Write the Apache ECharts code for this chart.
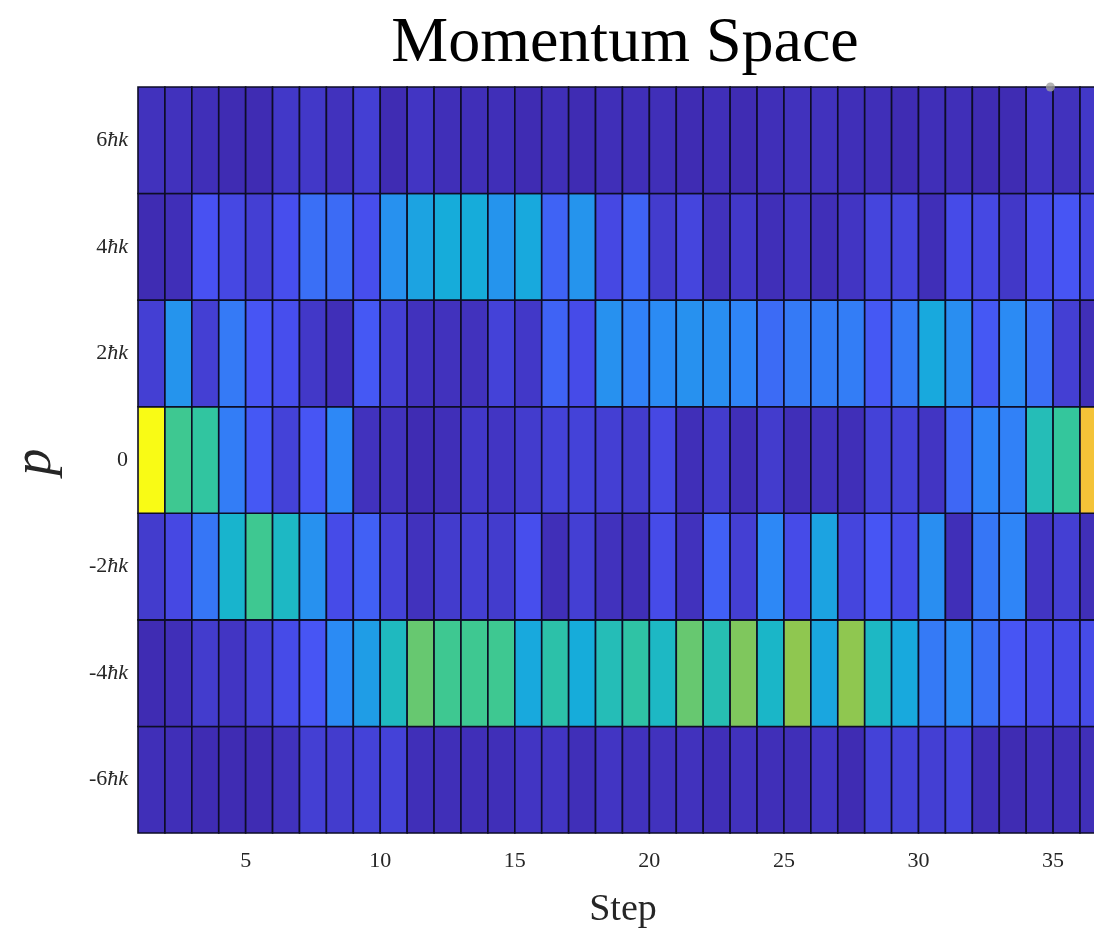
<!DOCTYPE html>
<html><head><meta charset="utf-8">
<script src="https://cdn.jsdelivr.net/npm/echarts@6/dist/echarts.min.js"></script>
<style>html,body{margin:0;padding:0;background:#fff}#c{width:1094px;height:931px}</style>
</head><body><div id="c"></div><script>
// Steps (columns) and momentum states (rows, in units of ħk)
const steps = [1,2,3,4,5,6,7,8,9,10,11,12,13,14,15,16,17,18,19,20,21,22,23,24,25,26,27,28,29,30,31,32,33,34,35,36];
const momenta = [-6,-4,-2,0,2,4,6];
// Relative occupation per step for each momentum row (colour scale 0..1)
const rowP6 = [0.04,0.04,0.03,0.02,0.02,0.06,0.06,0.04,0.08,0.02,0.05,0.03, 0.03,0.03,0.02,0.03,0.02,0.03,0.03,0.03,0.02,0.03,0.02,0.03, 0.04,0.04,0.03,0.03,0.02,0.03,0.03,0.02,0.02,0.05,0.04,0.06];
const rowP4 = [0.02,0.03,0.14,0.11,0.08,0.13,0.22,0.21,0.13,0.32,0.38,0.41, 0.41,0.33,0.40,0.19,0.33,0.11,0.19,0.07,0.10,0.04,0.06,0.03, 0.05,0.03,0.05,0.10,0.10,0.03,0.12,0.11,0.06,0.12,0.15,0.11];
const rowP2 = [0.08,0.33,0.08,0.25,0.15,0.13,0.06,0.03,0.16,0.08,0.04,0.04, 0.04,0.09,0.06,0.19,0.12,0.32,0.27,0.30,0.32,0.31,0.28,0.21, 0.25,0.26,0.26,0.16,0.25,0.40,0.31,0.16,0.30,0.22,0.08,0.03];
const row0  = [1.00,0.58,0.55,0.26,0.16,0.09,0.15,0.29,0.04,0.04,0.02,0.03, 0.06,0.05,0.07,0.09,0.09,0.08,0.07,0.11,0.03,0.07,0.03,0.07, 0.03,0.04,0.03,0.09,0.09,0.05,0.20,0.28,0.27,0.50,0.56,0.84];
const rowM2 = [0.07,0.11,0.24,0.45,0.58,0.47,0.32,0.12,0.18,0.09,0.04,0.07, 0.08,0.07,0.13,0.03,0.08,0.04,0.03,0.12,0.04,0.18,0.08,0.29, 0.12,0.38,0.10,0.15,0.12,0.31,0.03,0.24,0.28,0.05,0.08,0.03];
const rowM4 = [0.02,0.03,0.07,0.05,0.08,0.12,0.15,0.30,0.36,0.48,0.63,0.58, 0.58,0.58,0.40,0.53,0.41,0.50,0.54,0.47,0.63,0.51,0.66,0.46, 0.68,0.39,0.68,0.47,0.40,0.25,0.30,0.22,0.15,0.12,0.12,0.12];
const rowM6 = [0.03,0.03,0.02,0.02,0.02,0.04,0.08,0.07,0.09,0.09,0.03,0.03, 0.03,0.03,0.05,0.05,0.03,0.05,0.04,0.04,0.04,0.03,0.04,0.03, 0.03,0.05,0.02,0.09,0.09,0.08,0.10,0.03,0.02,0.03,0.03,0.03];
const xTicks = [5,10,15,20,25,30,35];
const yTicks = [-6,-4,-2,0,2,4,6];
const markerPoint = [[34.9,7]];

const rows = [rowM6,rowM4,rowM2,row0,rowP2,rowP4,rowP6];
const data = [];
rows.forEach((r,i)=>r.forEach((v,j)=>data.push([steps[j],momenta[i],v])));
const parula = ['#3e26a8','#4852f4','#2e87f7','#12b1d6','#37c897','#abc739','#fec338','#f9fb15'];
const SERIF = '"Liberation Serif", "DejaVu Serif", serif';

const chart = echarts.init(document.getElementById('c'), null, {renderer:'canvas'});
chart.setOption({
  animation:false,
  backgroundColor:'#ffffff',
  grid:{left:138, right:0, top:87, bottom:98, containLabel:false},
  visualMap:{show:false, type:'continuous', dimension:2, min:0, max:1, seriesIndex:0, inRange:{color:parula}},
  xAxis:{type:'value', min:1, max:36.52,
    axisLine:{show:false}, axisTick:{show:false}, splitLine:{show:false},
    axisLabel:{customValues:xTicks, fontFamily:SERIF, fontSize:22, color:'#262626', margin:17}},
  yAxis:{type:'value', min:-7, max:7,
    axisLine:{show:false}, axisTick:{show:false}, splitLine:{show:false},
    axisLabel:{customValues:yTicks, fontFamily:SERIF, fontSize:22, color:'#262626', margin:10,
      formatter:v=> v===0 ? '0' : v + '{i|ħk}',
      rich:{i:{fontFamily:SERIF, fontStyle:'italic', fontSize:22, color:'#262626'}}}},
  graphic:[
    {type:'text', style:{text:'Momentum Space', x:625, y:44, align:'center', verticalAlign:'middle', font:'64px '+SERIF, fill:'#000'}},
    {type:'text', style:{text:'Step', x:623, y:910, align:'center', verticalAlign:'middle', font:'38px '+SERIF, fill:'#262626'}},
    {type:'text', x:36, y:462, rotation:Math.PI/2, style:{text:'p', x:0, y:0, align:'center', verticalAlign:'middle', font:'italic 54px '+SERIF, fill:'#262626'}}
  ],
  series:[
    {type:'custom', data:data, encode:{x:0,y:1},
      renderItem:function(params, api){
        const x=api.value(0), y=api.value(1);
        const a=api.coord([x, y+1]);
        const b=api.coord([x+1, y-1]);
        return {type:'rect', shape:{x:a[0], y:a[1], width:b[0]-a[0], height:b[1]-a[1]},
          style:{fill:api.visual('color'), stroke:'#0d0d26', lineWidth:1.6}};
      }},
    {type:'scatter', data:markerPoint, symbol:'circle', symbolSize:9, itemStyle:{color:'#a0a0a0'}, z:10, silent:true}
  ]
});
</script></body></html>
